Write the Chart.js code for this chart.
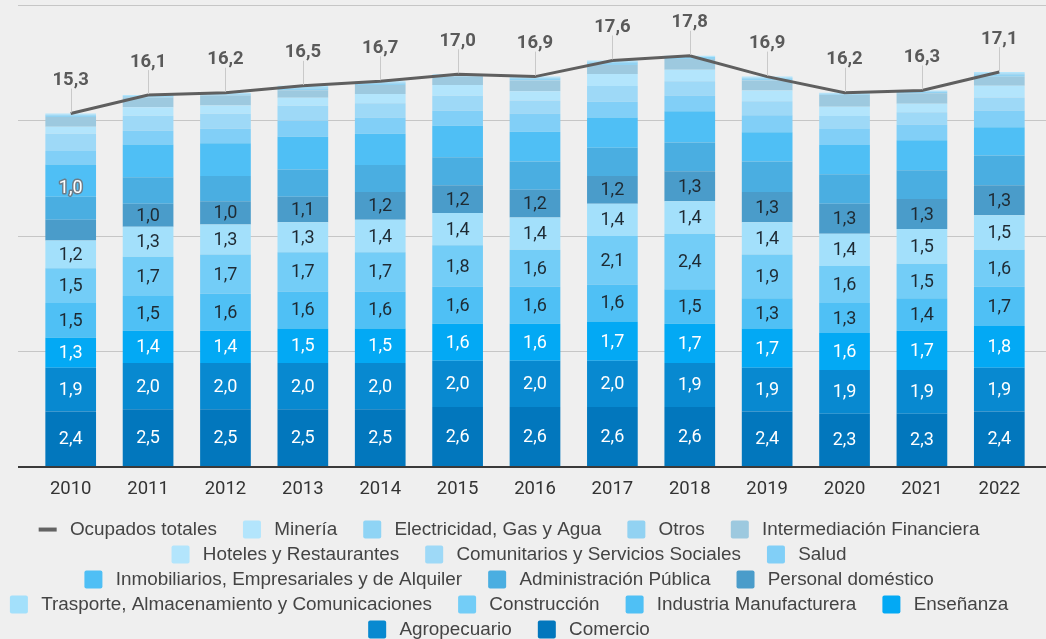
<!DOCTYPE html>
<html>
<head>
<meta charset="utf-8">
<script src="https://cdn.jsdelivr.net/npm/chart.js@4.4.1/dist/chart.umd.min.js"></script>
<style>
html,body{margin:0;padding:0;background:#efefef;overflow:hidden;}
#wrap{position:relative;width:1046px;height:649px;}
</style>
</head>
<body>
<div id="wrap"><canvas id="c"></canvas></div>
<script>
const years = ['2010','2011','2012','2013','2014','2015','2016','2017','2018','2019','2020','2021','2022'];
const ocupadosTotales = [15.3,16.1,16.2,16.5,16.7,17.0,16.9,17.6,17.8,16.9,16.2,16.3,17.1];
const comercio = [2.4,2.5,2.5,2.5,2.5,2.6,2.6,2.6,2.6,2.4,2.3,2.3,2.4];
const agropecuario = [1.9,2.0,2.0,2.0,2.0,2.0,2.0,2.0,1.9,1.9,1.9,1.9,1.9];
const ensenanza = [1.3,1.4,1.4,1.5,1.5,1.6,1.6,1.7,1.7,1.7,1.6,1.7,1.8];
const industria = [1.5,1.5,1.6,1.6,1.6,1.6,1.6,1.6,1.5,1.3,1.3,1.4,1.7];
const construccion = [1.5,1.7,1.7,1.7,1.7,1.8,1.6,2.1,2.4,1.9,1.6,1.5,1.6];
const trasporte = [1.2,1.3,1.3,1.3,1.4,1.4,1.4,1.4,1.4,1.4,1.4,1.5,1.5];
const personalDomestico = [0.9,1.0,1.0,1.1,1.2,1.2,1.2,1.2,1.3,1.3,1.3,1.3,1.3];
const administracionPublica = [1.0,1.14,1.1,1.18,1.17,1.21,1.22,1.22,1.25,1.32,1.27,1.25,1.29];
const inmobiliarios = [1.4,1.42,1.42,1.42,1.36,1.36,1.29,1.31,1.35,1.27,1.27,1.29,1.22];
const salud = [0.58,0.6,0.62,0.69,0.7,0.65,0.79,0.68,0.68,0.74,0.69,0.69,0.72];
const comunitarios = [0.75,0.65,0.65,0.65,0.62,0.65,0.57,0.68,0.62,0.6,0.57,0.53,0.57];
const hoteles = [0.3,0.36,0.36,0.34,0.4,0.47,0.4,0.52,0.5,0.47,0.4,0.36,0.5];
const intermediacion = [0.42,0.43,0.43,0.33,0.39,0.36,0.46,0.39,0.46,0.43,0.5,0.46,0.39];
const otros = [0.06,0.03,0.05,0.09,0.07,0.03,0.08,0.10,0.05,0.08,0.03,0.05,0.11];
const electricidad = [0.04,0.03,0.03,0.04,0.04,0.03,0.04,0.04,0.04,0.04,0.03,0.03,0.04];
const mineria = [0.05,0.04,0.04,0.06,0.05,0.04,0.05,0.06,0.05,0.05,0.04,0.04,0.06];

// stacking order: bottom -> top
const sectors = [
  {label:'Comercio', data:comercio, color:'#0277bd'},
  {label:'Agropecuario', data:agropecuario, color:'#0889d0'},
  {label:'Enseñanza', data:ensenanza, color:'#03a9f4'},
  {label:'Industria Manufacturera', data:industria, color:'#4fc0f5'},
  {label:'Construcción', data:construccion, color:'#73cdf7'},
  {label:'Trasporte, Almacenamiento y Comunicaciones', data:trasporte, color:'#a3e0fb'},
  {label:'Personal doméstico', data:personalDomestico, color:'#4a9cca'},
  {label:'Administración Pública', data:administracionPublica, color:'#4aaee1'},
  {label:'Inmobiliarios, Empresariales y de Alquiler', data:inmobiliarios, color:'#4fbff5'},
  {label:'Salud', data:salud, color:'#81cff7'},
  {label:'Comunitarios y Servicios Sociales', data:comunitarios, color:'#9ed9f7'},
  {label:'Hoteles y Restaurantes', data:hoteles, color:'#b3e5fc'},
  {label:'Intermediación Financiera', data:intermediacion, color:'#9dc9df'},
  {label:'Otros', data:otros, color:'#92d2f2'},
  {label:'Electricidad, Gas y Agua', data:electricidad, color:'#8fd4f5'},
  {label:'Minería', data:mineria, color:'#b3e5fc'}
];
const labeledSeries = ['Comercio','Agropecuario','Enseñanza','Industria Manufacturera','Construcción','Trasporte, Almacenamiento y Comunicaciones','Personal doméstico'];
const whiteLabelSeries = ['Comercio','Agropecuario','Enseñanza'];
const outlinedLabel = {series:'Administración Pública', year:'2010'};

const fmt = v => v.toFixed(1).replace('.', ',');
const ROBOTO = "Roboto, 'Noto Sans', sans-serif";

const datasets = sectors.map(s => ({
  type:'bar', label:s.label, data:s.data, backgroundColor:s.color,
  borderWidth:0, stack:'sectores', order:1,
  barPercentage:0.655, categoryPercentage:1
}));
datasets.push({
  type:'line', label:'Ocupados totales', data:ocupadosTotales,
  borderColor:'#5f5f5f', backgroundColor:'#5f5f5f', borderWidth:3,
  pointRadius:0, tension:0, stack:'total', order:0
});

const labelsPlugin = {
  id:'valueLabels',
  afterDatasetsDraw(chart){
    const ctx = chart.ctx;
    ctx.save();
    ctx.textAlign = 'center';
    ctx.textBaseline = 'middle';
    chart.data.datasets.forEach((ds, di) => {
      const meta = chart.getDatasetMeta(di);
      if (ds.type === 'line') {
        meta.data.forEach((pt, i) => {
          ctx.strokeStyle = '#c9c9c9';
          ctx.lineWidth = 1;
          ctx.beginPath();
          ctx.moveTo(Math.round(pt.x)+0.5, pt.y - 25);
          ctx.lineTo(Math.round(pt.x)+0.5, pt.y - 1);
          ctx.stroke();
          ctx.font = "bold 18.5px " + ROBOTO;
          ctx.fillStyle = '#5a5a5a';
          ctx.fillText(fmt(ds.data[i]), pt.x, pt.y - 33);
        });
        return;
      }
      meta.data.forEach((el, i) => {
        const v = ds.data[i];
        if (ds.label === outlinedLabel.series && years[i] === outlinedLabel.year) {
          ctx.font = "18px " + ROBOTO;
          ctx.lineJoin = 'round';
          ctx.strokeStyle = '#6d7d89';
          ctx.lineWidth = 3;
          ctx.strokeText(fmt(v), el.x, el.y - 8);
          ctx.fillStyle = '#ffffff';
          ctx.fillText(fmt(v), el.x, el.y - 8);
          return;
        }
        if (!labeledSeries.includes(ds.label) || v < 1) return;
        ctx.font = "18px " + ROBOTO;
        ctx.fillStyle = whiteLabelSeries.includes(ds.label) ? '#ffffff' : '#1e2a33';
        ctx.fillText(fmt(v), el.x, (el.y + el.base) / 2 + 1);
      });
    });
    ctx.restore();
  },
  afterDraw(chart){
    const lg = chart.legend;
    if (!lg || !lg.legendHitBoxes || !lg.legendHitBoxes.length) return;
    const hb = lg.legendHitBoxes[0];
    const ctx = chart.ctx;
    ctx.save();
    ctx.fillStyle = '#636363';
    ctx.fillRect(hb.left, hb.top + hb.height/2 - 2, 18, 4);
    ctx.restore();
  }
};

const TRAIL = '\u2002  ';
new Chart(document.getElementById('c'), {
  data:{labels:years, datasets:datasets},
  options:{
    responsive:true, maintainAspectRatio:false, animation:false, devicePixelRatio:1,
    layout:{padding:{top:5,left:0,right:8,bottom:0}},
    scales:{
      x:{
        stacked:true,
        grid:{display:false},
        border:{display:false},
        ticks:{font:{family:ROBOTO,size:18.5}, color:'#333', padding:3},
        afterFit:s => { s.height = 47; }
      },
      y:{
        stacked:true, min:0, max:20,
        ticks:{display:false, stepSize:5},
        grid:{
          color:c => (c.tick && c.tick.value === 0) ? '#3a3a3a' : '#c6c6c6',
          lineWidth:c => (c.tick && c.tick.value === 0) ? 2 : 1,
          tickLength:14, drawTicks:true
        },
        border:{display:false},
        afterFit:s => { s.width = 32; }
      },
      y2:{
        position:'right', min:0, max:20,
        ticks:{display:false, stepSize:5},
        grid:{
          drawOnChartArea:false, tickLength:8,
          color:c => (c.tick && c.tick.value === 0) ? '#3a3a3a' : '#c6c6c6',
          lineWidth:c => (c.tick && c.tick.value === 0) ? 2 : 1
        },
        border:{display:false},
        afterFit:s => { s.width = 0; }
      }
    },
    plugins:{
      tooltip:{enabled:false},
      legend:{
        display:true, position:'bottom',
        labels:{
          font:{family:"'Liberation Sans', Arial, sans-serif", size:18.9},
          color:'#444',
          boxWidth:18, boxHeight:18, padding:6.1,
          useBorderRadius:true, borderRadius:2,
          sort:(a,b) => b.datasetIndex - a.datasetIndex,
          generateLabels:chart => chart.data.datasets.map((ds,i) => ({
            text:'\u2009' + ds.label + TRAIL,
            fillStyle: ds.type === 'line' ? 'rgba(0,0,0,0)' : ds.backgroundColor,
            strokeStyle:'rgba(0,0,0,0)',
            lineWidth:0,
            hidden:false,
            datasetIndex:i,
            borderRadius:2,
            fontColor:'#444'
          }))
        }
      }
    }
  },
  plugins:[labelsPlugin]
});
</script>
</body>
</html>
